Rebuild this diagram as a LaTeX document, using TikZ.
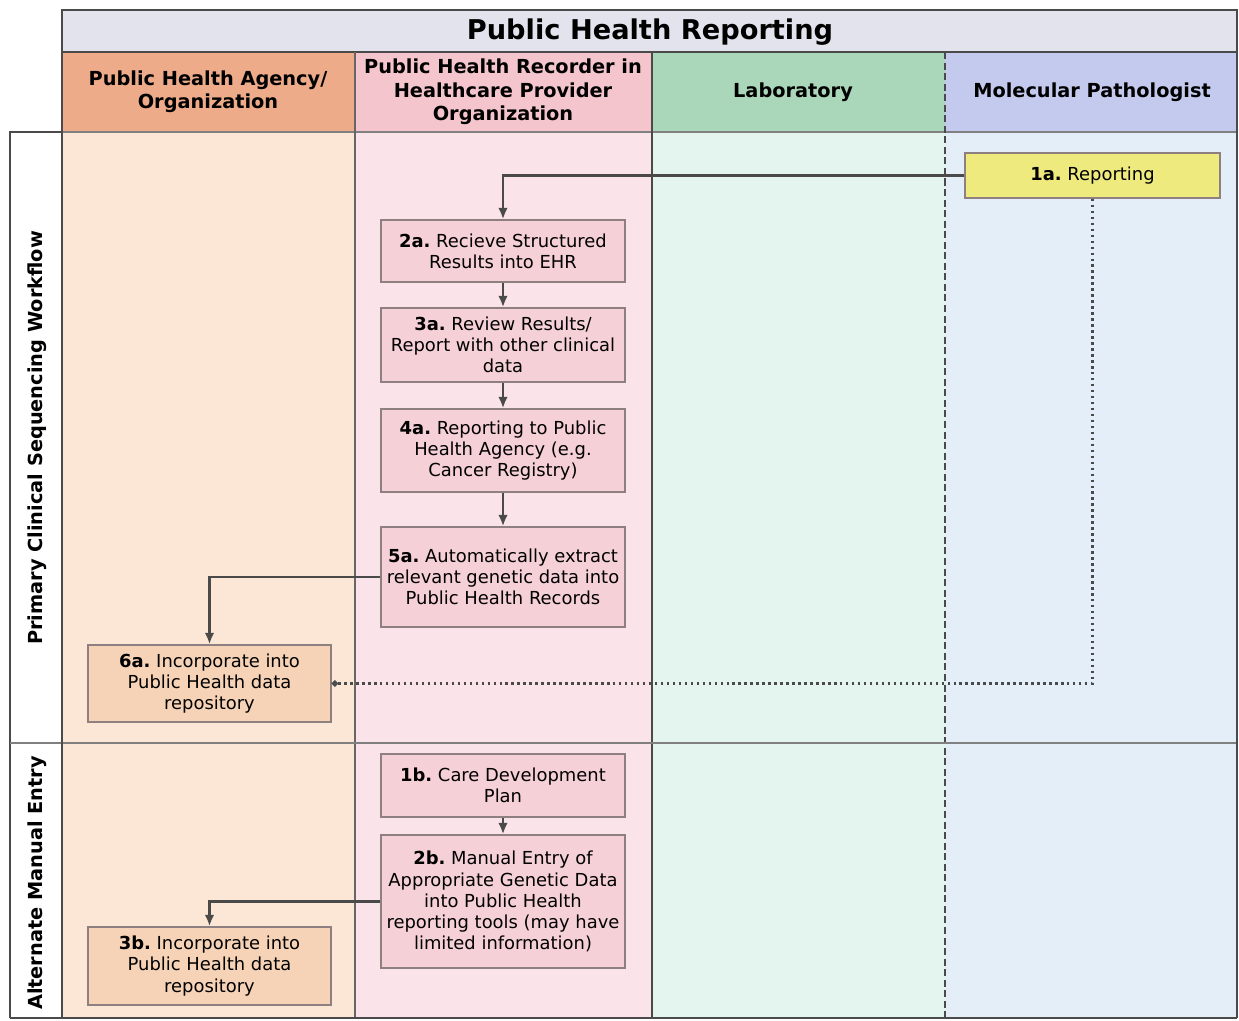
\documentclass[tikz,border=0pt]{standalone}
\usepackage{fontspec}
\setmainfont{DejaVu Sans}
\usetikzlibrary{arrows.meta}
\definecolor{frame}{HTML}{4A4A4A}
\definecolor{titlefill}{HTML}{E3E3ED}
\definecolor{agencyhead}{HTML}{EDAB8A}
\definecolor{agencybody}{HTML}{FCE6D6}
\definecolor{recorderhead}{HTML}{F4C5CC}
\definecolor{recorderbody}{HTML}{FBE4E9}
\definecolor{labhead}{HTML}{AAD7B9}
\definecolor{labbody}{HTML}{E3F5EE}
\definecolor{pathhead}{HTML}{C4CAEE}
\definecolor{pathbody}{HTML}{E3EEF9}
\definecolor{pinkbox}{HTML}{F6D0D7}
\definecolor{tanbox}{HTML}{F6D3B6}
\definecolor{yellowbox}{HTML}{EFEA7E}
\definecolor{boxline}{HTML}{8E7F80}
\begin{document}
\begin{tikzpicture}[x=0.02cm,y=-0.02cm,
  every node/.style={inner sep=2pt, text=black},
  stepbox/.style={draw=boxline, line width=0.9pt, align=center, inner xsep=0.5pt,
    font=\fontsize{10.2}{12}\selectfont, minimum width=4.88cm},
  pinkstep/.style={stepbox, fill=pinkbox},
  tanstep/.style={stepbox, fill=tanbox, minimum width=4.86cm},
  headtext/.style={align=center, font=\fontsize{11}{13.3}\selectfont\bfseries},
  flow/.style={draw=frame, line width=1.5pt, -{Latex[length=6.5pt,width=5.5pt]}},
  dotflow/.style={draw=frame, line width=1.4pt, dotted, -{Circle[length=3.5pt]}}
]
\useasboundingbox (0,0) rectangle (1239,1020);
\fill[white] (0,0) rectangle (1239,1020);

% lane bodies
\fill[agencybody]   (62,132)  rectangle (355,1018);
\fill[recorderbody] (355,132) rectangle (652,1018);
\fill[labbody]      (652,132) rectangle (945,1018);
\fill[pathbody]     (945,132) rectangle (1237,1018);

% title bar and lane headers
\filldraw[fill=titlefill, draw=frame, line width=1.2pt] (62,10) rectangle (1237,52);
\node[font=\fontsize{15.5}{19}\selectfont\bfseries] (title) at (650,32) {Public Health Reporting};
\fill[agencyhead]   (62,52)  rectangle (355,132);
\fill[recorderhead] (355,52) rectangle (652,132);
\fill[labhead]      (652,52) rectangle (945,132);
\fill[pathhead]     (945,52) rectangle (1237,132);
\node[headtext] (hagency) at (208,92) {Public Health Agency/\\Organization};
\node[headtext] (hrecorder) at (503,92) {Public Health Recorder in\\Healthcare Provider\\Organization};
\node[headtext] (hlab) at (793,92) {Laboratory};
\node[headtext] (hpath) at (1092,92) {Molecular Pathologist};

% lane separators
\draw[frame, line width=1.4pt] (62,52) -- (1237,52);
\draw[gray, line width=0.6pt] (62,132) -- (1237,132);
\draw[gray!80!black, line width=0.6pt] (355,52) -- (355,1018);
\draw[frame, line width=1.4pt] (652,52) -- (652,1018);
\draw[frame, line width=1.2pt, dash pattern=on 4pt off 2pt] (945,52) -- (945,1018);

% row labels
\draw[frame, line width=1.2pt] (10,1018) -- (10,132) -- (62,132);
\draw[gray, line width=0.8pt] (10,743) -- (1237,743);
\node[rotate=90, font=\fontsize{11}{13}\selectfont\bfseries] (rowprimary) at (37,438) {Primary Clinical Sequencing Workflow};
\node[rotate=90, font=\fontsize{11}{13}\selectfont\bfseries] (rowalt) at (37,883) {Alternate Manual Entry};

% outer frame
\draw[frame, line width=1.2pt] (62,10) -- (62,1018);
\draw[frame, line width=1.2pt] (1237,10) -- (1237,1018);
\draw[frame, line width=1.2pt] (10,1018) -- (1237,1018);

% steps
\node[stepbox, fill=yellowbox, minimum width=5.1cm, minimum height=0.9cm] (s1a) at (1092.5,175.5) {\textbf{1a.}\ Reporting};
\node[pinkstep, minimum height=1.24cm] (s2a) at (503,251) {\textbf{2a.}\ Recieve Structured\\Results into EHR};
\node[pinkstep, minimum height=1.48cm] (s3a) at (503,345) {\textbf{3a.}\ Review Results/\\Report with other clinical\\data};
\node[pinkstep, minimum height=1.66cm] (s4a) at (503,450.5) {\textbf{4a.}\ Reporting to Public\\Health Agency (e.g.\\Cancer Registry)};
\node[pinkstep, minimum height=2.0cm] (s5a) at (503,577) {\textbf{5a.}\ Automatically extract\\relevant genetic data into\\Public Health Records};
\node[tanstep, minimum height=1.54cm] (s6a) at (209.5,683.5) {\textbf{6a.}\ Incorporate into\\Public Health data\\repository};
\node[pinkstep, minimum height=1.26cm] (s1b) at (503,785.5) {\textbf{1b.}\ Care Development\\Plan};
\node[pinkstep, minimum height=2.66cm] (s2b) at (503,901.5) {\textbf{2b.}\ Manual Entry of\\Appropriate Genetic Data\\into Public Health\\reporting tools (may have\\limited information)};
\node[tanstep, minimum height=1.56cm] (s3b) at (209.5,966) {\textbf{3b.}\ Incorporate into\\Public Health data\\repository};

% connectors
\draw[flow] (s1a.west) -| (s2a.north);
\draw[flow] (s2a) -- (s3a);
\draw[flow] (s3a) -- (s4a);
\draw[flow] (s4a) -- (s5a);
\draw[flow] (s5a.west) -| (s6a.north);
\draw[dotflow] (s1a.south) |- (s6a.east);
\draw[flow] (s1b) -- (s2b);
\draw[flow] (s2b.west) -| (s3b.north);
\end{tikzpicture}
\end{document}
